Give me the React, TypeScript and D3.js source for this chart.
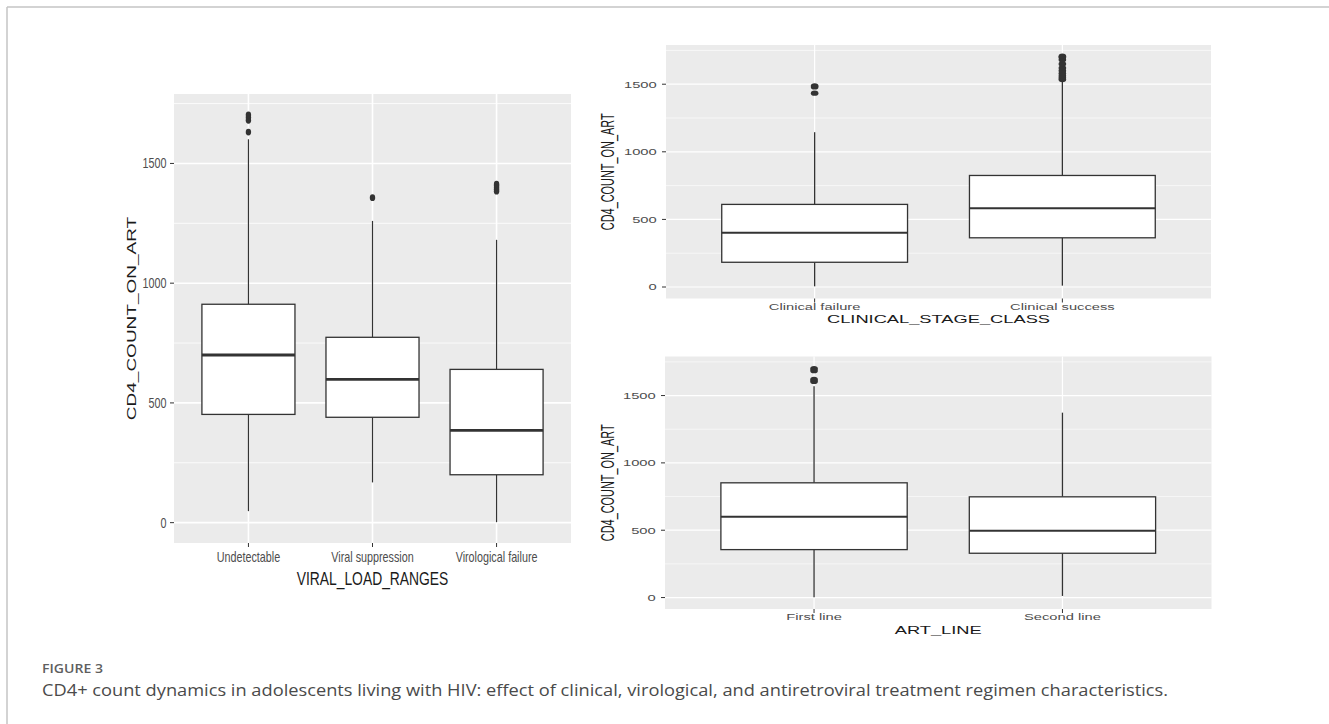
import { useEffect, useRef } from 'react';
import * as d3 from 'd3';

// ── data ────────────────────────────────────────────────────────────
const Y_TICKS = [0, 500, 1000, 1500];
const Y_MINOR = [250, 750, 1250, 1750];
const Y_DOMAIN = [-85, 1790];

const vlCats = ['Undetectable', 'Viral suppression', 'Virological failure'];
const vlLower = [48, 168, 2];
const vlQ1 = [452, 440, 200];
const vlMedian = [700, 598, 385];
const vlQ3 = [912, 774, 640];
const vlUpper = [1601, 1260, 1181];
const vlOutliers = [[1631, 1680, 1692, 1703], [1357], [1384, 1392, 1400, 1408, 1414]];

const csCats = ['Clinical failure', 'Clinical success'];
const csLower = [5, 10];
const csQ1 = [183, 364];
const csMedian = [401, 582];
const csQ3 = [611, 825];
const csUpper = [1145, 1520];
const csOutliers = [[1434, 1480, 1488], [1535, 1548, 1562, 1580, 1600, 1620, 1650, 1680, 1698, 1707]];

const artCats = ['First line', 'Second line'];
const artLower = [3, 12];
const artQ1 = [356, 329];
const artMedian = [600, 496];
const artQ3 = [852, 748];
const artUpper = [1570, 1373];
const artOutliers = [[1605, 1620, 1685, 1700], []];

const Y_TITLE = 'CD4_COUNT_ON_ART';
const FIG_LABEL = 'FIGURE 3';
const CAPTION = 'CD4+ count dynamics in adolescents living with HIV: effect of clinical, virological, and antiretroviral treatment regimen characteristics.';

const C = {
  panel: '#EBEBEB',
  grid: '#FFFFFF',
  box: '#333333',
  tick: '#4D4D4D',
  title: '#1A1A1A',
  frame: '#C4C4C4',
};
const sans = "'Liberation Sans', Arial, Helvetica, sans-serif";

// layout / style of the three ggplot panels
const PANELS = [
  {
    cats: vlCats, lower: vlLower, q1: vlQ1, median: vlMedian, q3: vlQ3, upper: vlUpper, outliers: vlOutliers,
    xTitle: 'VIRAL_LOAD_RANGES',
    x: 174, y: 94, w: 397, h: 449,
    sx: 0.77, tickSize: 14, catSize: 14, titleSize: 18, yTitleSize: 19, yTitleLen: 1, yTitleThick: 0.72,
    tickGap: 7.5, catDy: 19, titleDy: 42, yTitleX: 136,
    major: 1.6, minor: 0.8, boxW: 1.3, medW: 2.8, whW: 1.2, rx: 2.7, ry: 3.4,
  },
  {
    cats: csCats, lower: csLower, q1: csQ1, median: csMedian, q3: csQ3, upper: csUpper, outliers: csOutliers,
    xTitle: 'CLINICAL_STAGE_CLASS',
    x: 666, y: 45, w: 545, h: 253.5,
    sx: 1.55, tickSize: 9.5, catSize: 9.5, titleSize: 11.8, yTitleSize: 11.5, yTitleLen: 0.95, yTitleThick: 1.55,
    tickGap: 9.3, catDy: 11, titleDy: 24, yTitleX: 613.5,
    major: 1.2, minor: 0.6, boxW: 1.3, medW: 2, whW: 1.3, rx: 3.8, ry: 2.7,
  },
  {
    cats: artCats, lower: artLower, q1: artQ1, median: artMedian, q3: artQ3, upper: artUpper, outliers: artOutliers,
    xTitle: 'ART_LINE',
    x: 665, y: 356.5, w: 546.5, h: 252.5,
    sx: 1.55, tickSize: 9.5, catSize: 9.5, titleSize: 11.8, yTitleSize: 11.5, yTitleLen: 0.95, yTitleThick: 1.55,
    tickGap: 9.3, catDy: 11, titleDy: 24.5, yTitleX: 613.5,
    major: 1.2, minor: 0.6, boxW: 1.3, medW: 2, whW: 1.3, rx: 3.8, ry: 2.7,
  },
];

// text with its own stretch, like the resized ggplot images
function label(parent, x, y, str, o) {
  const g = parent.append('g')
    .attr('transform', `translate(${x},${y}) rotate(${o.rotate || 0}) scale(${o.sx || 1},${o.sy || 1})`);
  return g.append('text')
    .attr('text-anchor', o.anchor || 'middle')
    .attr('font-family', o.family || sans)
    .attr('font-size', o.size)
    .attr('font-weight', o.weight || 400)
    .attr('fill', o.fill || C.title)
    .text(str);
}

function drawPanel(svg, p) {
  const g = svg.append('g');
  const yScale = d3.scaleLinear().domain(Y_DOMAIN).range([p.y + p.h, p.y]);
  const xScale = d3.scalePoint().domain(p.cats).range([p.x, p.x + p.w]).padding(0.6);
  const bw = xScale.step() * 0.75;
  const bottom = p.y + p.h;

  g.append('rect').attr('x', p.x).attr('y', p.y).attr('width', p.w).attr('height', p.h).attr('fill', C.panel);

  // grid
  g.selectAll('.minor').data(Y_MINOR).join('line')
    .attr('x1', p.x).attr('x2', p.x + p.w).attr('y1', d => yScale(d)).attr('y2', d => yScale(d))
    .attr('stroke', C.grid).attr('stroke-width', p.minor);
  g.selectAll('.major').data(Y_TICKS).join('line')
    .attr('x1', p.x).attr('x2', p.x + p.w).attr('y1', d => yScale(d)).attr('y2', d => yScale(d))
    .attr('stroke', C.grid).attr('stroke-width', p.major);
  g.selectAll('.vmajor').data(p.cats).join('line')
    .attr('x1', d => xScale(d)).attr('x2', d => xScale(d)).attr('y1', p.y).attr('y2', bottom)
    .attr('stroke', C.grid).attr('stroke-width', p.major);

  // boxes
  p.cats.forEach((c, i) => {
    const cx = xScale(c);
    g.append('line').attr('x1', cx).attr('x2', cx).attr('y1', yScale(p.upper[i])).attr('y2', yScale(p.q3[i]))
      .attr('stroke', C.box).attr('stroke-width', p.whW);
    g.append('line').attr('x1', cx).attr('x2', cx).attr('y1', yScale(p.q1[i])).attr('y2', yScale(p.lower[i]))
      .attr('stroke', C.box).attr('stroke-width', p.whW);
    g.append('rect').attr('x', cx - bw / 2).attr('width', bw)
      .attr('y', yScale(p.q3[i])).attr('height', yScale(p.q1[i]) - yScale(p.q3[i]))
      .attr('fill', '#FFFFFF').attr('stroke', C.box).attr('stroke-width', p.boxW);
    g.append('line').attr('x1', cx - bw / 2).attr('x2', cx + bw / 2)
      .attr('y1', yScale(p.median[i])).attr('y2', yScale(p.median[i]))
      .attr('stroke', C.box).attr('stroke-width', p.medW);
    g.selectAll(null).data(p.outliers[i]).join('ellipse')
      .attr('cx', cx).attr('cy', d => yScale(d)).attr('rx', p.rx).attr('ry', p.ry).attr('fill', C.box);
  });

  // axes
  g.selectAll('.yt').data(Y_TICKS).join('line')
    .attr('x1', p.x - 4).attr('x2', p.x).attr('y1', d => yScale(d)).attr('y2', d => yScale(d))
    .attr('stroke', C.box).attr('stroke-width', 1);
  g.selectAll('.xt').data(p.cats).join('line')
    .attr('x1', d => xScale(d)).attr('x2', d => xScale(d)).attr('y1', bottom).attr('y2', bottom + 4)
    .attr('stroke', C.box).attr('stroke-width', 1);

  Y_TICKS.forEach(t => {
    label(g, p.x - p.tickGap, yScale(t) + p.tickSize * 0.36, String(t),
      { size: p.tickSize, sx: p.sx, anchor: 'end', fill: C.tick });
  });
  p.cats.forEach(c => {
    label(g, xScale(c), bottom + p.catDy, c, { size: p.catSize, sx: p.sx, fill: C.tick });
  });
  label(g, p.x + p.w / 2, bottom + p.titleDy, p.xTitle, { size: p.titleSize, sx: p.sx });
  label(g, p.yTitleX, p.y + p.h / 2, Y_TITLE,
    { size: p.yTitleSize, rotate: -90, sx: p.yTitleLen, sy: p.yTitleThick });
}

export default function App() {
  const svgRef = useRef(null);

  useEffect(() => {
    const svg = d3.select(svgRef.current);
    svg.selectAll('*').remove();
    const W = 1329, H = 724;
    svg.attr('width', W).attr('height', H);

    svg.append('rect').attr('width', W).attr('height', H).attr('fill', '#FFFFFF');

    // figure frame (top + left rule)
    svg.append('line').attr('x1', 7).attr('x2', W).attr('y1', 7).attr('y2', 7)
      .attr('stroke', C.frame).attr('stroke-width', 1.5);
    svg.append('line').attr('x1', 7).attr('x2', 7).attr('y1', 7).attr('y2', H)
      .attr('stroke', C.frame).attr('stroke-width', 1.5);

    PANELS.forEach(p => drawPanel(svg, p));

    // caption
    svg.append('text').attr('x', 42).attr('y', 673)
      .attr('font-family', "'Open Sans', 'Noto Sans', sans-serif").attr('font-size', 13).attr('font-weight', 600)
      .attr('fill', '#5F5F5F').attr('textLength', 61).attr('lengthAdjust', 'spacingAndGlyphs')
      .text(FIG_LABEL);
    svg.append('text').attr('x', 42).attr('y', 696)
      .attr('font-family', "'Open Sans', 'Noto Sans', sans-serif").attr('font-size', 15.5).attr('font-weight', 400)
      .attr('fill', '#4A4A4A').attr('textLength', 1126).attr('lengthAdjust', 'spacingAndGlyphs')
      .text(CAPTION);
  }, []);

  return (
    <div style={{ position: 'absolute', left: 0, top: 0 }}>
      <svg ref={svgRef} style={{ display: 'block' }}></svg>
    </div>
  );
}
